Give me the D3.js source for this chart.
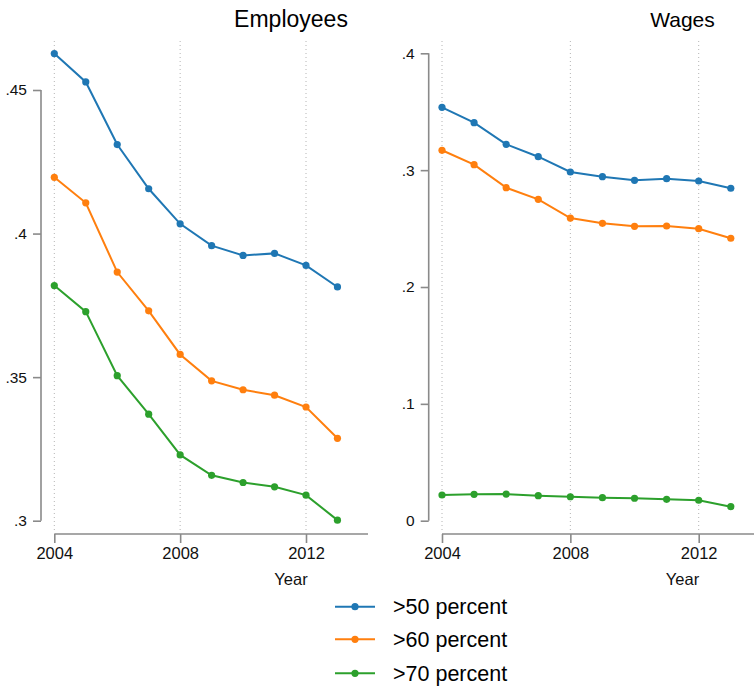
<!DOCTYPE html>
<html>
<head>
<meta charset="utf-8">
<script src="https://cdn.jsdelivr.net/npm/d3@7"></script>
<style>
  body { margin: 0; background: #fff; }
  svg { display: block; font-family: Arial, "Liberation Sans", Helvetica, sans-serif; }
</style>
</head>
<body>
<svg id="chart" width="754" height="687"></svg>
<script>
var years = [2004, 2005, 2006, 2007, 2008, 2009, 2010, 2011, 2012, 2013];
var seriesNames = [">50 percent", ">60 percent", ">70 percent"];
var colors = ["#1f77b4", "#ff7f0e", "#2ca02c"];

var emp50 = [0.4627, 0.4528, 0.4310, 0.4156, 0.4034, 0.3958, 0.3924, 0.3931, 0.3889, 0.3814];
var emp60 = [0.4196, 0.4107, 0.3866, 0.3731, 0.3579, 0.3487, 0.3456, 0.3437, 0.3396, 0.3287];
var emp70 = [0.3819, 0.3728, 0.3505, 0.3371, 0.3229, 0.3158, 0.3133, 0.3118, 0.3089, 0.3002];

var wage50 = [0.3538, 0.3406, 0.3221, 0.3115, 0.2984, 0.2944, 0.2913, 0.2927, 0.2907, 0.2845];
var wage60 = [0.3170, 0.3047, 0.2850, 0.2750, 0.2590, 0.2545, 0.2519, 0.2522, 0.2499, 0.2417];
var wage70 = [0.0220, 0.0226, 0.0228, 0.0214, 0.0205, 0.0197, 0.0192, 0.0183, 0.0175, 0.0120];

var yearTicks = [2004, 2008, 2012];
var empTicks = [0.3, 0.35, 0.4, 0.45];
var wageTicks = [0, 0.1, 0.2, 0.3, 0.4];

var svg = d3.select("#chart");

function fmt(d) {
    return d === 0 ? "0" : String(+d.toFixed(2)).replace(/^0/, "");
}

function drawPanel(p) {
    var g = svg.append("g");
    var x = d3.scaleLinear().domain([2004, 2012]).range(p.xr);
    var y = d3.scaleLinear().domain(p.yd).range(p.yr);

    // dotted vertical grid
    g.selectAll(".grid").data(yearTicks).enter().append("line")
        .attr("x1", d => x(d)).attr("x2", d => x(d))
        .attr("y1", 41).attr("y2", p.axisY - 2)
        .attr("stroke", "#b4b4b4").attr("stroke-width", 1)
        .attr("stroke-dasharray", "1,3");

    // y axis
    var ya = g.append("g").attr("transform", "translate(" + p.axisX + ",0)")
        .call(d3.axisLeft(y).tickValues(p.ticks).tickFormat(fmt).tickSize(8).tickPadding(6));
    ya.select(".domain").remove();
    ya.append("line").attr("x1", 0).attr("x2", 0)
        .attr("y1", y(p.ticks[p.ticks.length - 1])).attr("y2", y(p.ticks[0]));
    ya.selectAll("line").attr("stroke", "#8a8a8a").attr("stroke-width", 1.6);
    ya.selectAll("text").attr("font-size", 15.5).attr("fill", "#111").style("font-family", "inherit");

    // x axis
    var xa = g.append("g").attr("transform", "translate(0," + p.axisY + ")")
        .call(d3.axisBottom(x).tickValues(yearTicks).tickFormat(d3.format("d")).tickSize(9).tickPadding(4));
    xa.select(".domain").remove();
    xa.append("line").attr("x1", x(2004)).attr("x2", p.xEnd).attr("y1", 0).attr("y2", 0);
    xa.selectAll("line").attr("stroke", "#8a8a8a").attr("stroke-width", 1.6);
    xa.selectAll("text").attr("font-size", 16.5).attr("fill", "#111").style("font-family", "inherit");

    g.append("text").attr("x", p.labelX).attr("y", 585)
        .attr("text-anchor", "middle").attr("font-size", 16.5).attr("fill", "#111")
        .text("Year");
    g.append("text").attr("x", p.labelX).attr("y", 27)
        .attr("text-anchor", "middle").attr("font-size", p.titleSize).attr("fill", "#000")
        .text(p.title);

    var line = d3.line().x((d, i) => x(years[i])).y(d => y(d));
    p.series.forEach(function (s, k) {
        g.append("path").datum(s)
            .attr("d", line).attr("fill", "none")
            .attr("stroke", colors[k]).attr("stroke-width", 2);
        g.selectAll(".pt" + k).data(s).enter().append("circle")
            .attr("cx", (d, i) => x(years[i])).attr("cy", d => y(d))
            .attr("r", 3.6).attr("fill", colors[k]);
    });
}

drawPanel({
    title: "Employees", titleSize: 23, series: [emp50, emp60, emp70],
    xr: [54.3, 306], xEnd: 368, axisX: 41, axisY: 534, labelX: 291,
    yd: [0.3, 0.45], yr: [520.7, 90], ticks: empTicks
});
drawPanel({
    title: "Wages", titleSize: 21, series: [wage50, wage60, wage70],
    xr: [442, 698.7], xEnd: 754, axisX: 428.7, axisY: 534, labelX: 682.5,
    yd: [0, 0.4], yr: [520.7, 53.3], ticks: wageTicks
});

// legend
var leg = svg.append("g");
seriesNames.forEach(function (name, k) {
    var yy = [606.7, 639.3, 673.3][k];
    leg.append("line").attr("x1", 335).attr("x2", 375).attr("y1", yy).attr("y2", yy)
        .attr("stroke", colors[k]).attr("stroke-width", 2);
    leg.append("circle").attr("cx", 355).attr("cy", yy).attr("r", 3.6).attr("fill", colors[k]);
    leg.append("text").attr("x", 393).attr("y", yy).attr("dy", "0.36em")
        .attr("font-size", 21.5).attr("fill", "#000").text(name);
});
</script>
</body>
</html>
